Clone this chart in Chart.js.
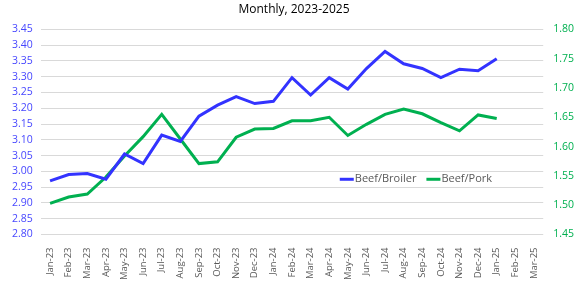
<!DOCTYPE html>
<html>
<head>
<meta charset="utf-8">
<script src="https://cdn.jsdelivr.net/npm/chart.js@4/dist/chart.umd.min.js"></script>
<style>
  html, body { margin: 0; padding: 0; background: #fff; }
  #wrap { width: 584px; height: 287px; }
</style>
</head>
<body>
<div id="wrap"><canvas id="chart"></canvas></div>
<script>
const months = ['Jan-23', 'Feb-23', 'Mar-23', 'Apr-23', 'May-23', 'Jun-23', 'Jul-23', 'Aug-23', 'Sep-23',
    'Oct-23', 'Nov-23', 'Dec-23', 'Jan-24', 'Feb-24', 'Mar-24', 'Apr-24', 'May-24', 'Jun-24', 'Jul-24',
    'Aug-24', 'Sep-24', 'Oct-24', 'Nov-24', 'Dec-24', 'Jan-25', 'Feb-25', 'Mar-25'];

// left axis
const beefBroiler = [2.970, 2.990, 2.993, 2.975, 3.055, 3.025, 3.115, 3.095, 3.175, 3.210, 3.237, 3.215,
    3.222, 3.297, 3.242, 3.297, 3.261, 3.326, 3.380, 3.341, 3.326, 3.297, 3.324, 3.319, 3.357, null, null];

// right axis
const beefPork = [1.503, 1.514, 1.519, 1.548, 1.584, 1.617, 1.655, 1.613, 1.571, 1.574, 1.616, 1.630,
    1.631, 1.644, 1.644, 1.650, 1.619, 1.638, 1.655, 1.664, 1.656, 1.641, 1.627, 1.654, 1.648, null, null];

const BLUE = '#3333ff';
const GREEN = '#00b050';
const FONT = 'Open Sans';

// legend sits inside the plot, so draw it by hand
const innerLegend = {
    id: 'innerLegend',
    afterDraw(chart) {
        const ctx = chart.ctx;
        const area = chart.chartArea;
        const y = chart.scales.y.getPixelForValue(2.975);
        let x = area.left + 299;
        ctx.save();
        ctx.font = '11px "' + FONT + '"';
        ctx.textBaseline = 'middle';
        chart.data.datasets.forEach((ds) => {
            ctx.strokeStyle = ds.borderColor;
            ctx.lineWidth = 3;
            ctx.beginPath();
            ctx.moveTo(x, y);
            ctx.lineTo(x + 14, y);
            ctx.stroke();
            ctx.fillStyle = '#595959';
            ctx.fillText(ds.label, x + 15, y);
            x += 15 + ctx.measureText(ds.label).width + 10;
        });
        ctx.restore();
    }
};

new Chart(document.getElementById('chart'), {
    type: 'line',
    data: {
        labels: months,
        datasets: [{
            label: 'Beef/Broiler',
            data: beefBroiler,
            yAxisID: 'y',
            borderColor: BLUE,
            backgroundColor: BLUE,
            borderWidth: 3,
            pointRadius: 0,
            tension: 0
        }, {
            label: 'Beef/Pork',
            data: beefPork,
            yAxisID: 'y1',
            borderColor: GREEN,
            backgroundColor: GREEN,
            borderWidth: 3,
            pointRadius: 0,
            tension: 0
        }]
    },
    options: {
        responsive: true,
        maintainAspectRatio: false,
        animation: false,
        layout: { padding: { left: 4, right: 0, top: 0, bottom: 2 } },
        plugins: {
            legend: { display: false },
            tooltip: { enabled: false },
            title: {
                display: true,
                text: 'Monthly, 2023-2025',
                color: '#000',
                font: { family: FONT, size: 12, weight: 'normal' },
                padding: { top: 2, bottom: 13 }
            }
        },
        scales: {
            x: {
                offset: true,
                grid: { display: false },
                border: { display: false },
                ticks: {
                    autoSkip: false,
                    maxRotation: 90,
                    minRotation: 90,
                    color: '#595959',
                    font: { family: FONT, size: 9.5 },
                    padding: 5
                }
            },
            y: {
                position: 'left',
                min: 2.80,
                max: 3.45,
                grid: { color: '#d9d9d9', lineWidth: 1, drawTicks: false },
                border: { display: false },
                ticks: {
                    stepSize: 0.05,
                    autoSkip: false,
                    color: '#4747ff',
                    font: { family: FONT, size: 10.5 },
                    padding: 8,
                    callback: (v) => v.toFixed(2)
                }
            },
            y1: {
                position: 'right',
                min: 1.45,
                max: 1.80,
                grid: { drawOnChartArea: false, drawTicks: false },
                border: { display: false },
                ticks: {
                    stepSize: 0.05,
                    autoSkip: false,
                    color: GREEN,
                    font: { family: FONT, size: 10.5 },
                    padding: 10,
                    callback: (v) => v.toFixed(2)
                }
            }
        }
    },
    plugins: [innerLegend]
});
</script>
</body>
</html>
